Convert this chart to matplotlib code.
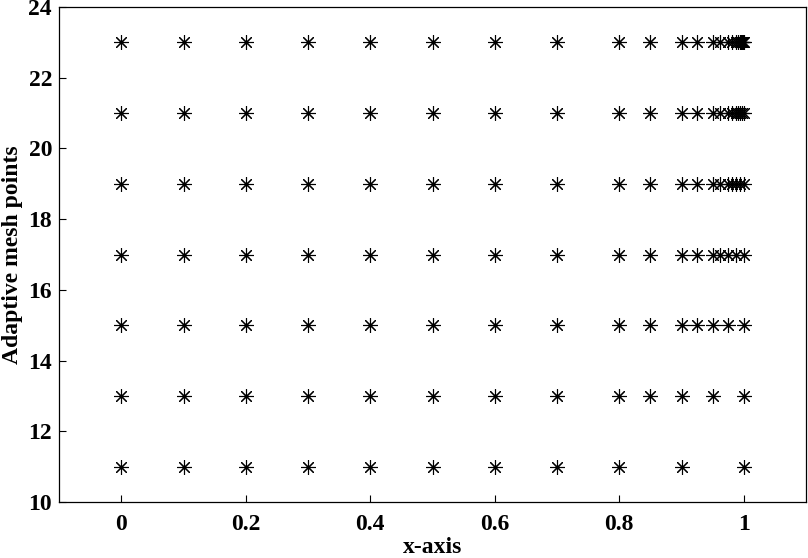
import matplotlib
matplotlib.use("Agg")
import matplotlib.pyplot as plt

base = [0.0, 0.1, 0.2, 0.3, 0.4, 0.5, 0.6, 0.7, 0.8]
mesh_11 = base + [0.9, 1.0]
mesh_13 = base + [0.85, 0.9, 0.95, 1.0]
mesh_15 = base + [0.85, 0.9, 0.925, 0.95, 0.975, 1.0]
mesh_17 = base + [0.85, 0.9, 0.925, 0.95, 0.9625, 0.975, 0.9875, 1.0]
mesh_19 = base + [0.85, 0.9, 0.925, 0.95, 0.9625, 0.975, 0.98125, 0.9875,
                  0.99375, 1.0]
mesh_21 = base + [0.85, 0.9, 0.925, 0.95, 0.9625, 0.975, 0.98125, 0.9875,
                  0.990625, 0.99375, 0.996875, 1.0]
mesh_23 = base + [0.85, 0.9, 0.925, 0.95, 0.9625, 0.975, 0.98125, 0.9875,
                  0.990625, 0.99375, 0.9953125, 0.996875, 0.9984375, 1.0]
rows = {11: mesh_11, 13: mesh_13, 15: mesh_15, 17: mesh_17,
        19: mesh_19, 21: mesh_21, 23: mesh_23}

plt.rcParams['font.family'] = ['Liberation Serif', 'DejaVu Serif']
plt.rcParams['font.weight'] = 'bold'

fig = plt.figure(figsize=(8.08, 5.58), dpi=100)
ax = fig.add_axes([59/808, 1 - 502/558, (806-59)/808, (502-7)/558])

for n, xs in rows.items():
    ax.plot(xs, [n]*len(xs), linestyle='none', marker=(8, 2, 0),
            markersize=10.5, color='black', markeredgewidth=0.8)

ax.set_xlim(-0.1, 1.1)
ax.set_ylim(10, 24)
ax.set_xticks([0, 0.2, 0.4, 0.6, 0.8, 1])
ax.set_xticklabels(['0', '0.2', '0.4', '0.6', '0.8', '1'])
ax.set_yticks([10, 12, 14, 16, 18, 20, 22, 24])
ax.tick_params(direction='in', length=5, width=0.8, labelsize=17,
               top=False, right=False)
ax.tick_params(axis='x', pad=9)
ax.tick_params(axis='y', pad=5)
for lab in ax.get_xticklabels() + ax.get_yticklabels():
    lab.set_fontweight('bold')
for s in ax.spines.values():
    s.set_linewidth(0.9)
ax.set_xlabel('x-axis', fontsize=17, fontweight='bold', labelpad=1)
ax.set_ylabel('Adaptive mesh points', fontsize=17, fontweight='bold', labelpad=4)

fig.savefig('out.png', dpi=100)
